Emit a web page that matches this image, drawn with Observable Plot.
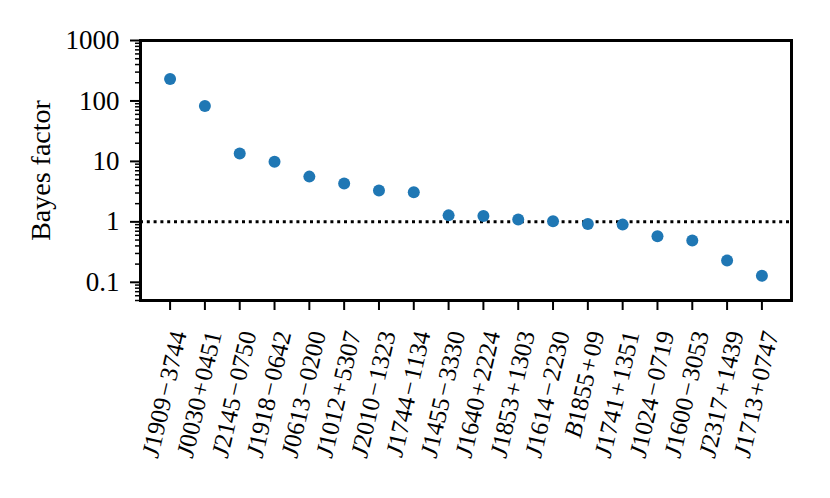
<!DOCTYPE html>
<html><head><meta charset="utf-8">
<script src="https://cdn.jsdelivr.net/npm/d3@7"></script>
<script src="https://cdn.jsdelivr.net/npm/@observablehq/plot@0.6"></script>
<style>body{margin:0;background:#fff}</style>
</head><body><div id="chart"></div>
<script>
const pulsars = ["J1909−3744","J0030+0451","J2145−0750","J1918−0642","J0613−0200","J1012+5307","J2010−1323","J1744−1134","J1455−3330","J1640+2224","J1853+1303","J1614−2230","B1855+09","J1741+1351","J1024−0719","J1600−3053","J2317+1439","J1713+0747"];
const bayesFactors = [231, 82.7, 13.5, 9.85, 5.6, 4.3, 3.3, 3.1, 1.28, 1.25, 1.09, 1.02, 0.92, 0.90, 0.58, 0.49, 0.229, 0.128];
const yMajorTicks = [0.1, 1, 10, 100, 1000];
const yMinorTicks = [0.05,0.06,0.07,0.08,0.09, 0.2,0.3,0.4,0.5,0.6,0.7,0.8,0.9, 2,3,4,5,6,7,8,9, 20,30,40,50,60,70,80,90, 200,300,400,500,600,700,800,900];
const threshold = [1];
const yLabel = "Bayes factor";

const data = pulsars.map((name, i) => ({name, bf: bayesFactors[i]}));
const spaced = s => s.replace(/([−+])/, "\u200A$1\u200A");

const plot = Plot.plot({
  width: 830, height: 498,
  marginLeft: 140, marginRight: 39, marginTop: 40, marginBottom: 198,
  style: {fontFamily: "'Liberation Serif', serif", fontSize: "26px", color: "#000", background: "#fff", overflow: "visible"},
  x: {type: "point", domain: pulsars, padding: 0.85, round: false, label: null},
  y: {type: "log", domain: [0.05, 1000], label: null},
  marks: [
    Plot.ruleY(threshold, {stroke: "#000", strokeWidth: 3, strokeDasharray: "3,3.8"}),
    Plot.dot(data, {x: "name", y: "bf", r: 6, fill: "#1f77b4"}),
    Plot.axisY({ticks: yMinorTicks, tickSize: 5, tickFormat: () => "", strokeWidth: 1.5, label: null}),
    Plot.axisY({ticks: yMajorTicks, tickSize: 10, tickPadding: 11, tickFormat: d => String(d), strokeWidth: 2, label: null, fontSize: 27}),
    Plot.axisX({tickSize: 10, tickFormat: () => "", strokeWidth: 2, label: null, ariaLabel: "x-ticks"}),
    Plot.axisX({tickSize: 0, tickRotate: -77, tickPadding: 31, tickFormat: spaced, label: null, fontSize: 25, dx: 9}),
    Plot.frame({stroke: "#000", strokeWidth: 3}),
    Plot.text([yLabel], {text: d => d, frameAnchor: "left", rotate: -90, dx: -99, fontSize: 28, textAnchor: "middle"})
  ]
});
document.getElementById("chart").appendChild(plot);

// Math-style labels: italic leading letter
d3.select(plot).selectAll('g[aria-label="x-axis tick label"] text').each(function() {
  const t = d3.select(this);
  const s = t.text();
  if (!s) return;
  t.text(null);
  t.append("tspan").attr("font-style", "italic").text(s[0]);
  t.append("tspan").text(s.slice(1));
});
</script>
</body></html>
